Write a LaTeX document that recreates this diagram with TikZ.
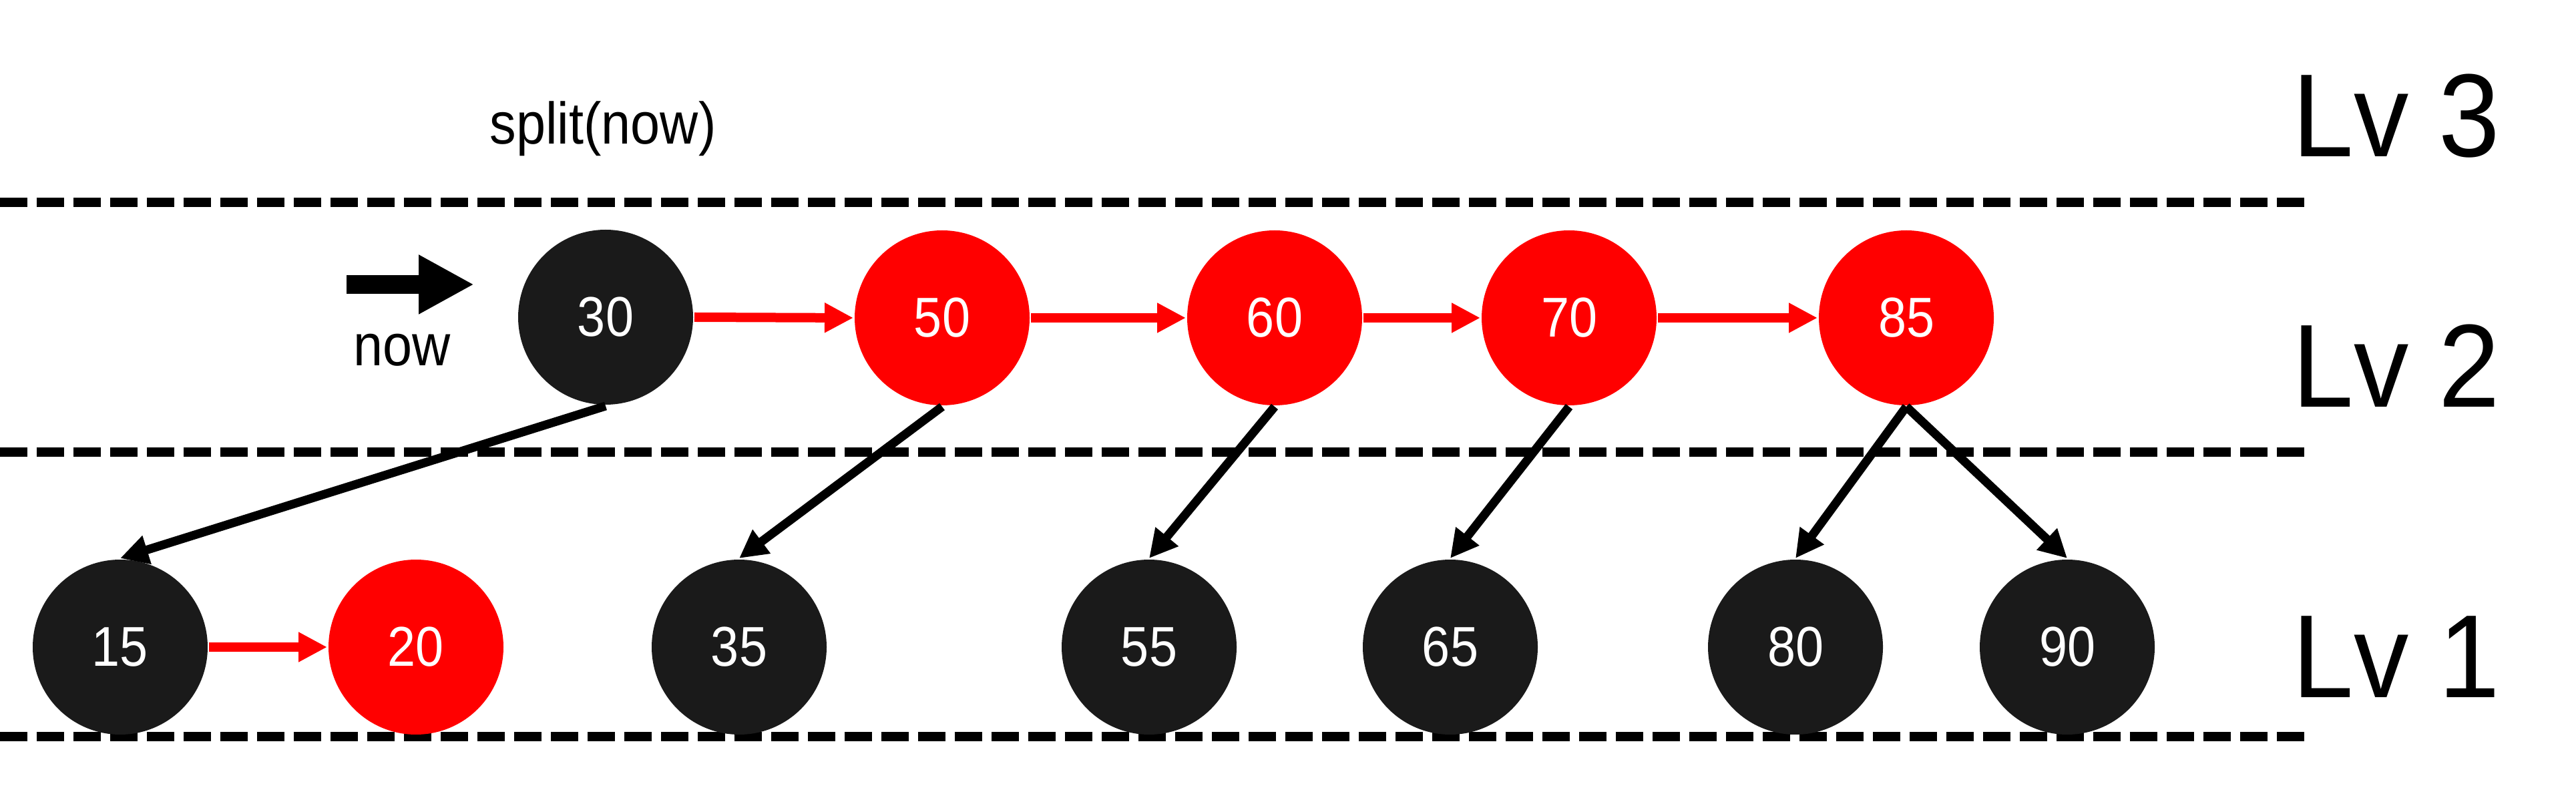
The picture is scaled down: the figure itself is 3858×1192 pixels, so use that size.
\documentclass[tikz,border=0pt]{standalone}
\usepackage{fontspec}
\usepackage{graphicx}
\setmainfont{Liberation Sans}
\usetikzlibrary{arrows.meta}
\definecolor{nodeblack}{HTML}{1A1A1A}
\definecolor{nodered}{HTML}{FF0000}
\newcommand\hsq[1]{\scalebox{0.9}[1]{#1}}
\newcommand\hsl[1]{\scalebox{0.93}[1]{#1}}
\tikzset{
  rbnode/.style={circle, fill=nodeblack, minimum size=26.2pt, inner sep=0pt, text=white, font=\fontsize{8.4pt}{10pt}\selectfont},
  rrnode/.style={rbnode, fill=nodered},
  redarrow/.style={draw=nodered, line width=1.4pt, -{Triangle[length=4.3pt,width=4.2pt]}},
  blkarrow/.style={draw=black, line width=1.3pt, -{Triangle[length=4.2pt,width=4.2pt]}},
  levelline/.style={draw=black, line width=1.35pt, dash pattern=on 4.1pt off 1.4pt},
  smalltext/.style={anchor=base, inner sep=0pt, font=\fontsize{8.8pt}{10pt}\selectfont},
  lvtext/.style={anchor=base, inner sep=0pt, font=\fontsize{17.7pt}{20pt}\selectfont}
}
\begin{document}
\begin{tikzpicture}[x=0.1pt, y=-0.1pt]
\useasboundingbox (0,0) rectangle (3858,1192);

% level separators
\coordinate (l1a) at (0,303);  \coordinate (l1b) at (3451,303);
\coordinate (l2a) at (0,677);  \coordinate (l2b) at (3451,677);
\coordinate (l3a) at (0,1103); \coordinate (l3b) at (3451,1103);
\draw[levelline] (l1a) -- (l1b);
\draw[levelline] (l2a) -- (l2b);
\draw[levelline] (l3a) -- (l3b);

% level labels
\node[lvtext] (lv3) at (3589,235) {\hsl{Lv 3}};
\node[lvtext] (lv2) at (3589,610) {\hsl{Lv 2}};
\node[lvtext] (lv1) at (3589,1044) {\hsl{Lv 1}};

% texts
\node[smalltext] (split) at (903,216) {\hsq{split(now)}};
\node[smalltext] (nowlbl) at (602,548) {\hsq{now}};

% now arrow
\coordinate (nowA) at (519,426);
\coordinate (nowB) at (710,426);
\draw[line width=2.8pt, -{Triangle[length=8.3pt,width=8.3pt]}] (nowA) -- (nowB);

% level 2 nodes
\node[rbnode] (n30) at (907,475) {\hsq{30}};
\node[rrnode] (n50) at (1411,476) {\hsq{50}};
\node[rrnode] (n60) at (1909,476) {\hsq{60}};
\node[rrnode] (n70) at (2350,476) {\hsq{70}};
\node[rrnode] (n85) at (2855,476) {\hsq{85}};

% level 1 nodes
\node[rbnode] (n15) at (180,969) {\hsq{15}};
\node[rrnode] (n20) at (623,969) {\hsq{20}};
\node[rbnode] (n35) at (1107,969) {\hsq{35}};
\node[rbnode] (n55) at (1721,969) {\hsq{55}};
\node[rbnode] (n65) at (2172,969) {\hsq{65}};
\node[rbnode] (n80) at (2689,969) {\hsq{80}};
\node[rbnode] (n90) at (3096,969) {\hsq{90}};

% red links
\draw[redarrow] (n30.east) -- (n50.west);
\draw[redarrow] (n50.east) -- (n60.west);
\draw[redarrow] (n60.east) -- (n70.west);
\draw[redarrow] (n70.east) -- (n85.west);
\draw[redarrow] (n15.east) -- (n20.west);

% down links
\draw[blkarrow] (n30.south) -- (n15.north);
\draw[blkarrow] (n50.south) -- (n35.north);
\draw[blkarrow] (n60.south) -- (n55.north);
\draw[blkarrow] (n70.south) -- (n65.north);
\draw[blkarrow] (n85.south) -- (n80.north);
\draw[blkarrow] (n85.south) -- (n90.north);
\end{tikzpicture}
\end{document}
